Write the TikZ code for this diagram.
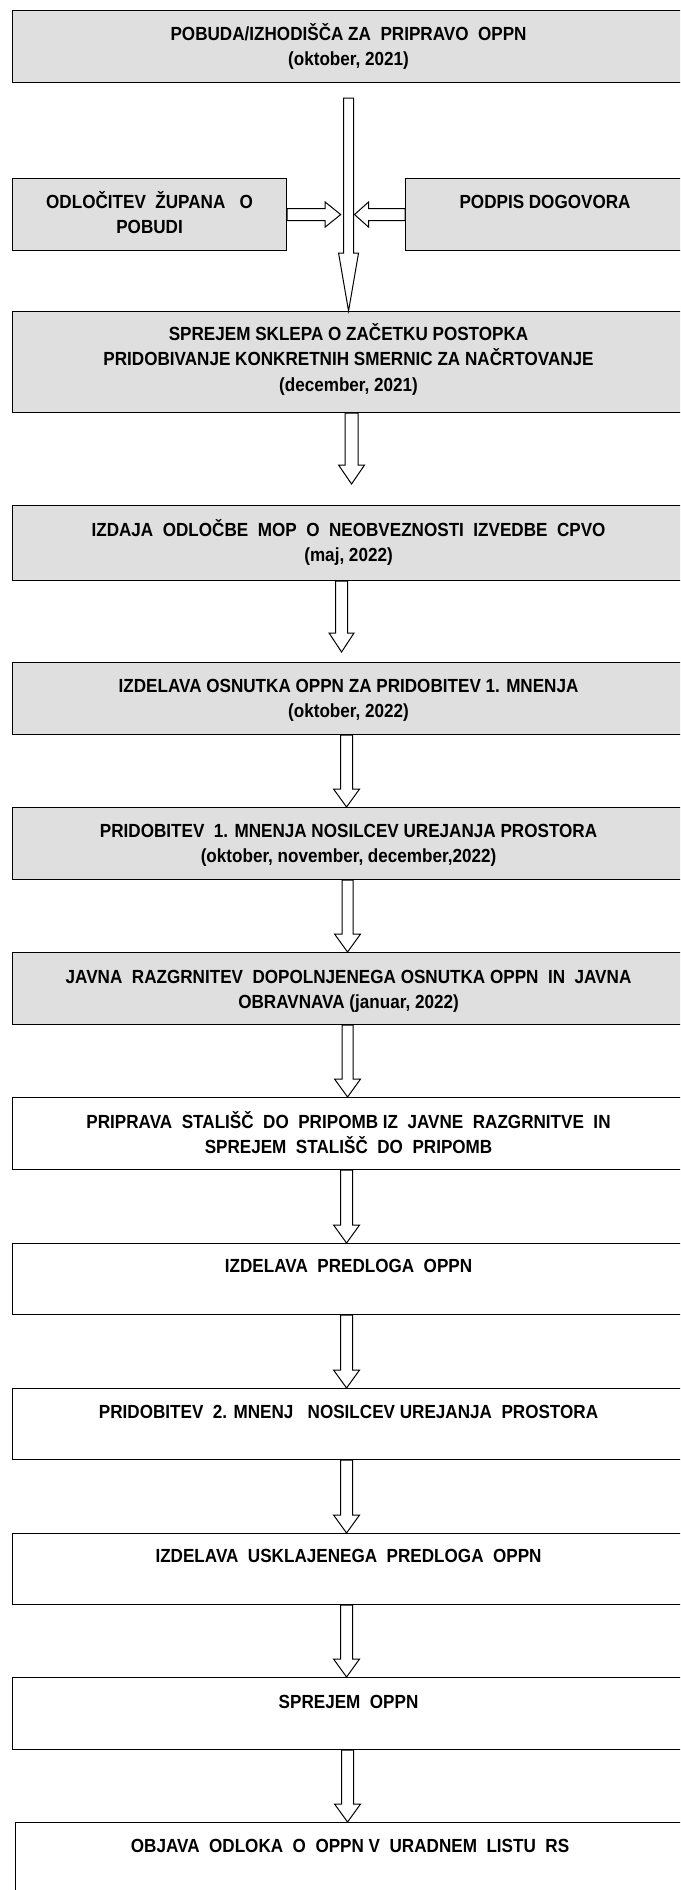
\documentclass[tikz,border=0pt]{standalone}
\usepackage{fontspec}
\usetikzlibrary{calc}
\newfontfamily\narfont{Liberation Sans}[FakeStretch=0.9]
\definecolor{boxgray}{HTML}{DFDFDF}
\tikzset{
  box/.style={draw=black, line width=1.1pt, rectangle, inner sep=0pt, anchor=north west, minimum width=672pt},
  gbox/.style={box, fill=boxgray},
  wbox/.style={box, fill=white},
  txt/.style={inner sep=0pt, align=center, anchor=north, font=\narfont\bfseries\fontsize{19}{25.5}\selectfont},
  arr/.style={draw=black, fill=white, line width=1pt, line join=miter},
}
% vertical block arrow: #1 from, #2 tip, #3 shaft half width, #4 head half width, #5 head length
\newcommand{\vblk}[5]{%
  \draw[arr] let \p1=(#1), \p2=(#2) in
    (\x2-#3,\y1) -- (\x2-#3,\y2+#5) -- (\x2-#4,\y2+#5) -- (\x2,\y2)
    -- (\x2+#4,\y2+#5) -- (\x2+#3,\y2+#5) -- (\x2+#3,\y1) -- cycle;}
\begin{document}
\begin{tikzpicture}[x=1pt,y=-1pt]
\useasboundingbox (0,0) rectangle (680,1890);
\fill[white] (0,0) rectangle (680,1890);
\clip (0,0) rectangle (680,1890);

% boxes
\node[gbox, minimum height=72pt] (b1) at (12,10) {};
\node[gbox, minimum width=274pt, minimum height=72pt] (L) at (12,178) {};
\node[gbox, minimum width=279pt, minimum height=72pt] (R) at (405,178) {};
\node[gbox, minimum height=101pt] (b2) at (12,311) {};
\node[gbox, minimum height=75pt] (b3) at (12,505) {};
\node[gbox, minimum height=72pt] (b4) at (12,662) {};
\node[gbox, minimum height=72pt] (b5) at (12,807) {};
\node[gbox, minimum height=72pt] (b6) at (12,952) {};
\node[wbox, minimum height=72pt] (b7) at (12,1097) {};
\node[wbox, minimum height=71pt] (b8) at (12,1243) {};
\node[wbox, minimum height=71pt] (b9) at (12,1388) {};
\node[wbox, minimum height=71pt] (b10) at (12,1533) {};
\node[wbox, minimum height=72pt] (b11) at (12,1677) {};
\node[wbox, minimum width=669pt, minimum height=90pt] (b12) at (15,1822) {};

% texts
\node[txt] (t1) at ($(b1.north)+(0,12)$) {\strut POBUDA/IZHODIŠČA ZA~ PRIPRAVO~ OPPN\\\strut(oktober, 2021)};
\node[txt] (tL) at ($(L.north)+(0,12)$) {\strut ODLOČITEV~ ŽUPANA~~ O\\\strut POBUDI};
\node[txt] (tR) at ($(R.north)+(0,12)$) {\strut PODPIS DOGOVORA};
\node[txt] (t2) at ($(b2.north)+(0,11)$) {\strut SPREJEM SKLEPA O ZAČETKU POSTOPKA\\\strut PRIDOBIVANJE KONKRETNIH SMERNIC ZA NAČRTOVANJE\\\strut(december, 2021)};
\node[txt] (t3) at ($(b3.north)+(0,13)$) {\strut IZDAJA~ ODLOČBE~ MOP~ O~ NEOBVEZNOSTI~ IZVEDBE~ CPVO\\\strut(maj, 2022)};
\node[txt] (t4) at ($(b4.north)+(0,12)$) {\strut IZDELAVA OSNUTKA OPPN ZA PRIDOBITEV 1. MNENJA\\\strut(oktober, 2022)};
\node[txt] (t5) at ($(b5.north)+(0,12)$) {\strut PRIDOBITEV~ 1. MNENJA NOSILCEV UREJANJA PROSTORA\\\strut(oktober, november, december,2022)};
\node[txt] (t6) at ($(b6.north)+(0,13)$) {\strut JAVNA~ RAZGRNITEV~ DOPOLNJENEGA OSNUTKA OPPN~ IN~ JAVNA\\\strut OBRAVNAVA (januar, 2022)};
\node[txt] (t7) at ($(b7.north)+(0,13)$) {\strut PRIPRAVA~ STALIŠČ~ DO~ PRIPOMB IZ~ JAVNE~ RAZGRNITVE~ IN\\\strut SPREJEM~ STALIŠČ~ DO~ PRIPOMB};
\node[txt] (t8) at ($(b8.north)+(0,11)$) {\strut IZDELAVA~ PREDLOGA~ OPPN};
\node[txt] (t9) at ($(b9.north)+(0,12)$) {\strut PRIDOBITEV~ 2. MNENJ~~ NOSILCEV UREJANJA~ PROSTORA};
\node[txt] (t10) at ($(b10.north)+(0,11)$) {\strut IZDELAVA~ USKLAJENEGA~ PREDLOGA~ OPPN};
\node[txt] (t11) at ($(b11.north)+(0,13)$) {\strut SPREJEM~ OPPN};
\node[txt] (t12) at ($(b12.north)+(0,12)$) {\strut OBJAVA~ ODLOKA~ O~ OPPN V~ URADNEM~ LISTU~ RS};

% connectors
\coordinate (a1s) at (348.5,98);
\vblk{a1s}{b2.north}{5pt}{10pt}{58pt}
\coordinate (lt) at (340.7,214);
\coordinate (rt) at (354.5,214);
\draw[arr] let \p1=(L.east), \p2=(lt) in
  (\x1,\y1+6pt) -- (\x2-15.5pt,\y1+6pt) -- (\x2-15.5pt,\y1+12.5pt) -- (\x2,\y1)
  -- (\x2-15.5pt,\y1-12.5pt) -- (\x2-15.5pt,\y1-6pt) -- (\x1,\y1-6pt) -- cycle;
\draw[arr] let \p1=(R.west), \p2=(rt) in
  (\x1,\y1+6pt) -- (\x2+14pt,\y1+6pt) -- (\x2+14pt,\y1+12.5pt) -- (\x2,\y1)
  -- (\x2+14pt,\y1-12.5pt) -- (\x2+14pt,\y1-6pt) -- (\x1,\y1-6pt) -- cycle;
\coordinate (tip2) at ($(b3.north)+(3,-21)$);
\vblk{b2.south}{tip2}{6.5pt}{13pt}{19pt}
\coordinate (tip3) at ($(b4.north)+(-7,-10)$);
\vblk{b3.south}{tip3}{6pt}{12.5pt}{19pt}
\coordinate (tip4) at ($(b5.north)+(-2,0)$);
\vblk{b4.south}{tip4}{6pt}{13pt}{18pt}
\coordinate (tip5) at ($(b6.north)+(-1,0)$);
\vblk{b5.south}{tip5}{5.5pt}{13pt}{18pt}
\coordinate (tip6) at ($(b7.north)+(-1,0)$);
\vblk{b6.south}{tip6}{5.5pt}{13pt}{18pt}
\coordinate (tip7) at ($(b8.north)+(-2,0)$);
\vblk{b7.south}{tip7}{6pt}{13pt}{18pt}
\coordinate (tip8) at ($(b9.north)+(-2,0)$);
\vblk{b8.south}{tip8}{6pt}{13pt}{18pt}
\coordinate (tip9) at ($(b10.north)+(-2,0)$);
\vblk{b9.south}{tip9}{6pt}{13pt}{18pt}
\coordinate (tip10) at ($(b11.north)+(-2,0)$);
\vblk{b10.south}{tip10}{6pt}{13pt}{18pt}
\coordinate (tip11) at ($(b12.north)+(-2.5,0)$);
\vblk{b11.south}{tip11}{6pt}{13pt}{18pt}
\end{tikzpicture}
\end{document}
